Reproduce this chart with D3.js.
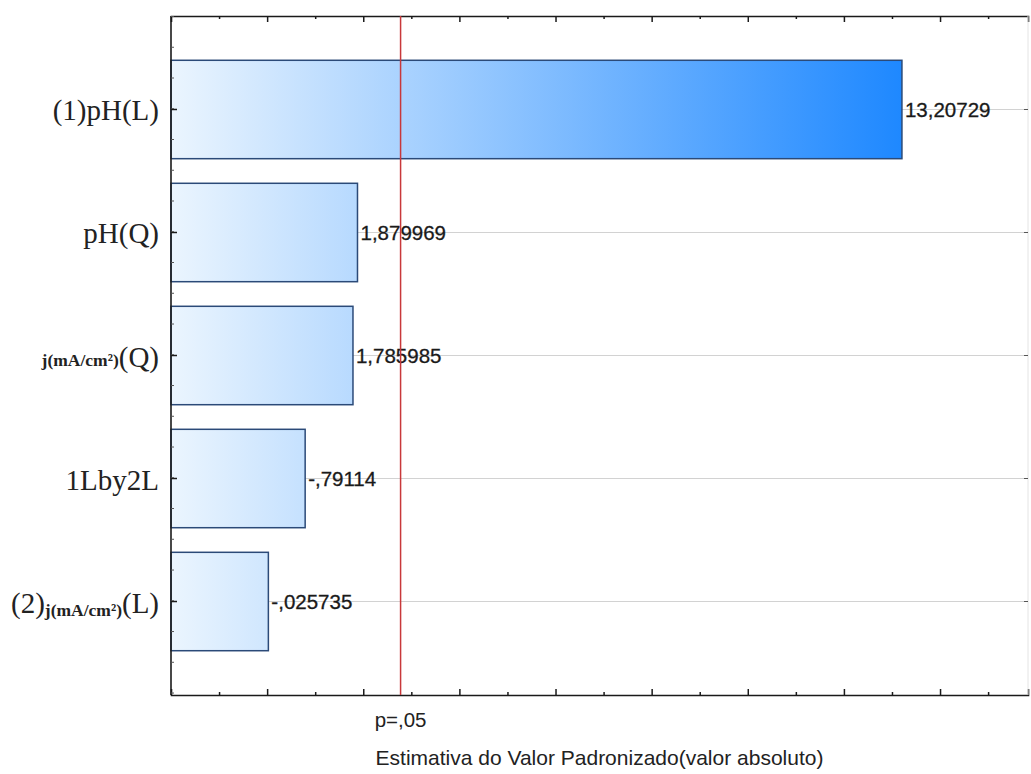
<!DOCTYPE html>
<html>
<head>
<meta charset="utf-8">
<script src="https://cdn.jsdelivr.net/npm/d3@7"></script>
<style>
  html, body { margin: 0; padding: 0; background: #ffffff; }
  svg { display: block; }
</style>
</head>
<body>
<svg id="chart" width="1031" height="774"></svg>
<script>
// Pareto chart of standardized effects
const categories = ["(1)pH(L)", "pH(Q)", "j(mA/cm²)(Q)", "1Lby2L", "(2)j(mA/cm²)(L)"];
const effects = [13.20729, 1.879969, 1.785985, -0.79114, -0.025735];
const criticalT = 2.776445;          // t value for p = .05
const criticalLabel = "p=,05";
const xTitle = "Estimativa do Valor Padronizado(valor absoluto)";
const xDomain = [-2, 15.83];
const smallPart = "j(mA/cm²)";

const svg = d3.select("#chart");
const plot = { left: 171, right: 1028, top: 16, bottom: 695 };

const x = d3.scaleLinear().domain(xDomain).range([plot.left, plot.right]);
const y = d3.scaleBand().domain(categories).range([plot.top, plot.bottom])
  .paddingInner(0.2).paddingOuter(0.36);

// gradient running across the plot area
const defs = svg.append("defs");
const grad = defs.append("linearGradient")
  .attr("id", "barGrad")
  .attr("gradientUnits", "userSpaceOnUse")
  .attr("x1", x(xDomain[0])).attr("x2", x(d3.max(effects, Math.abs)))
  .attr("y1", 0).attr("y2", 0);
grad.append("stop").attr("offset", "0%").attr("stop-color", "#ebf5fe");
grad.append("stop").attr("offset", "100%").attr("stop-color", "#1e88ff");

const center = d => y(d) + y.bandwidth() / 2;

// horizontal grid lines at each effect
svg.append("g").selectAll("line").data(categories).join("line")
  .attr("x1", plot.left).attr("x2", plot.right)
  .attr("y1", d => center(d)).attr("y2", d => center(d))
  .attr("stroke", "#d2d2d2").attr("stroke-width", 1);

// bars (absolute value of each effect)
svg.append("g").selectAll("rect").data(categories).join("rect")
  .attr("x", x(xDomain[0]))
  .attr("y", d => y(d))
  .attr("width", (d, i) => x(Math.abs(effects[i])) - x(xDomain[0]))
  .attr("height", y.bandwidth())
  .attr("fill", "url(#barGrad)")
  .attr("stroke", "#2b4a78").attr("stroke-width", 1.5);

// value labels
const fmt = v => String(v).replace(".", ",").replace(/^(-?)0,/, "$1,");
svg.append("g").selectAll("text").data(categories).join("text")
  .attr("x", (d, i) => x(Math.abs(effects[i])) + 3)
  .attr("y", d => center(d))
  .attr("dy", "0.36em")
  .attr("font-family", "'Liberation Sans', Arial, sans-serif")
  .attr("font-size", 20.5)
  .attr("fill", "#1a1a1a")
  .attr("stroke", "#1a1a1a").attr("stroke-width", 0.3)
  .text((d, i) => fmt(effects[i]));

// x axes (top and bottom) with major and minor ticks, no labels
const majorTicks = d3.range(0, xDomain[1], 2);
const minorTicks = d3.range(-1, xDomain[1], 2);
function xAxisGroup(ypos, gen) {
  const g = svg.append("g").attr("transform", `translate(0,${ypos})`);
  g.call(gen(x).tickValues(majorTicks).tickSize(-6).tickFormat(""));
  g.append("g").call(gen(x).tickValues(minorTicks).tickSize(-3).tickFormat(""))
    .select(".domain").remove();
  g.selectAll(".domain").attr("stroke", "#1a1a1a").attr("stroke-width", 1.6);
  g.selectAll(".tick line").attr("stroke", "#1a1a1a").attr("stroke-width", 1.5);
  return g;
}
xAxisGroup(plot.bottom, d3.axisBottom);
xAxisGroup(plot.top, d3.axisTop);

// left axis: major ticks at each effect, minor ticks every quarter step
const step = y.step();
const yMinor = d3.range(plot.top + 0.5, plot.bottom + 1, step / 4);
const left = svg.append("g");
left.append("line")
  .attr("x1", plot.left).attr("x2", plot.left)
  .attr("y1", plot.top).attr("y2", plot.bottom)
  .attr("stroke", "#1a1a1a").attr("stroke-width", 1.6);
left.selectAll("line.minor").data(yMinor).join("line").attr("class", "minor")
  .attr("x1", plot.left).attr("x2", plot.left + 3)
  .attr("y1", d => d).attr("y2", d => d)
  .attr("stroke", "#555").attr("stroke-width", 1);
left.selectAll("line.major").data(categories).join("line").attr("class", "major")
  .attr("x1", plot.left).attr("x2", plot.left + 6)
  .attr("y1", d => center(d)).attr("y2", d => center(d))
  .attr("stroke", "#1a1a1a").attr("stroke-width", 1.5);

// faint right frame with ticks at each effect
const right = svg.append("g");
right.append("line")
  .attr("x1", plot.right).attr("x2", plot.right)
  .attr("y1", plot.top).attr("y2", plot.bottom)
  .attr("stroke", "#e4e4e4").attr("stroke-width", 1);
right.selectAll("line.major").data(categories).join("line").attr("class", "major")
  .attr("x1", plot.right - 4).attr("x2", plot.right)
  .attr("y1", d => center(d)).attr("y2", d => center(d))
  .attr("stroke", "#555").attr("stroke-width", 1);

// category labels, with the current-density unit set in small type
const labels = svg.append("g")
  .attr("font-family", "'Liberation Serif', 'Times New Roman', serif")
  .attr("fill", "#222")
  .attr("text-anchor", "end");
categories.forEach(c => {
  const t = labels.append("text")
    .attr("x", plot.left - 12)
    .attr("y", center(c) + 11)
    .attr("font-size", 29);
  const idx = c.indexOf(smallPart);
  if (idx < 0) {
    t.text(c);
  } else {
    const before = c.slice(0, idx), after = c.slice(idx + smallPart.length);
    if (before) t.append("tspan").text(before);
    t.append("tspan").attr("font-size", 17.5).attr("font-weight", "bold")
      .attr("dy", before ? 3 : -1).text(smallPart);
    t.append("tspan").attr("dy", before ? -3 : 1).text(after);
  }
});

// critical value line
svg.append("line")
  .attr("x1", x(criticalT)).attr("x2", x(criticalT))
  .attr("y1", plot.top).attr("y2", plot.bottom)
  .attr("stroke", "#c8383a").attr("stroke-width", 1.5);
svg.append("text")
  .attr("x", x(criticalT)).attr("y", 727)
  .attr("text-anchor", "middle")
  .attr("font-family", "'Liberation Sans', Arial, sans-serif")
  .attr("font-size", 20.5).attr("fill", "#222")
  .text(criticalLabel);

// axis title
svg.append("text")
  .attr("x", (plot.left + plot.right) / 2).attr("y", 765)
  .attr("text-anchor", "middle")
  .attr("font-family", "'Liberation Sans', Arial, sans-serif")
  .attr("font-size", 21).attr("fill", "#222")
  .text(xTitle);
</script>
</body>
</html>
